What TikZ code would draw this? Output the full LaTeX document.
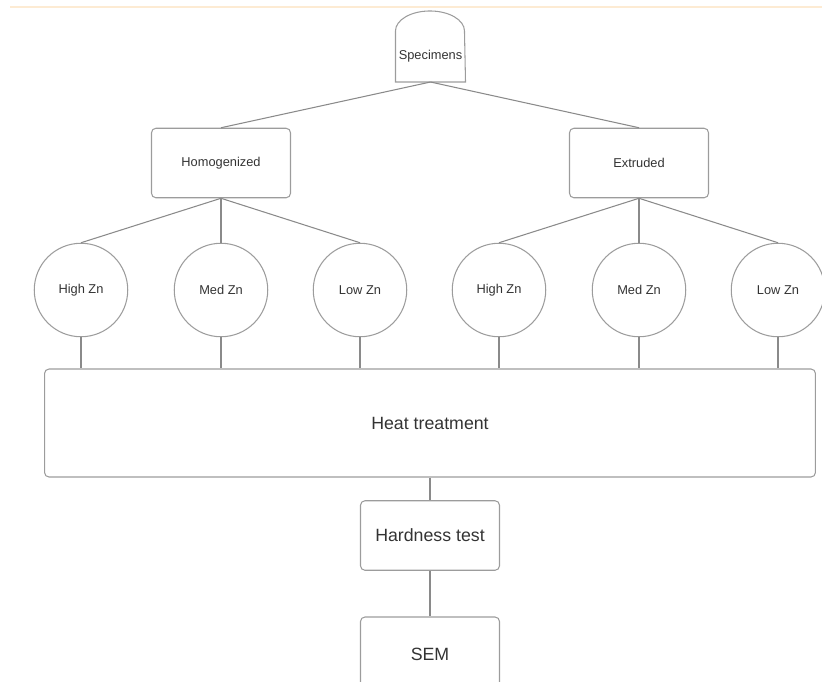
\documentclass[tikz,border=0pt]{standalone}
\usepackage{fontspec}
\setmainfont{Liberation Sans}
\definecolor{linegray}{HTML}{8A8A8A}
\definecolor{boxgray}{HTML}{9C9C9C}
\definecolor{textgray}{HTML}{333333}
\definecolor{topline}{HTML}{FDEBD3}
\tikzset{
  small/.style={font=\fontsize{7.3}{9}\selectfont, text=textgray},
  large/.style={font=\fontsize{10.1}{12}\selectfont, text=textgray},
  stepbox/.style={draw=boxgray, rounded corners=2.5pt, minimum width=2.78cm, minimum height=1.39cm, inner sep=0pt},
  zn/.style={draw=boxgray, circle, minimum size=1.87cm, inner sep=0pt, small}
}
\begin{document}
\begin{tikzpicture}[x=0.02cm, y=-0.02cm, line width=0.6pt]
  \useasboundingbox (0,0) rectangle (822,681);
  \clip (0,0) rectangle (822,681);
  \draw[topline, line width=1pt] (10,7) -- (822,7);
  % tree
  \node[small, minimum width=1.38cm, minimum height=1cm, inner sep=0pt, anchor=south] (spec) at (430.5,82) {Specimens};
  \draw[boxgray] (spec.south west) -- (spec.north west)
    arc[start angle=180, end angle=0, x radius=0.69cm, y radius=0.4cm]
    -- (spec.south east) -- cycle;
  \node[stepbox, small] (homog) at (221,163) {Homogenized};
  \node[stepbox, small] (extr) at (639,163) {Extruded};
  \node[zn] (hz1) at (81,290) {High Zn};
  \node[zn] (mz1) at (221,290) {Med Zn};
  \node[zn] (lz1) at (360,290) {Low Zn};
  \node[zn] (hz2) at (499,290) {High Zn};
  \node[zn] (mz2) at (639,290) {Med Zn};
  \node[zn] (lz2) at (778,290) {Low Zn};
  \node[stepbox, large, minimum width=15.42cm, minimum height=2.16cm] (heat) at (430,423) {Heat treatment};
  \node[stepbox, large] (hard) at (430,535.5) {Hardness test};
  \node[stepbox, large, minimum height=1.5cm] (sem) at (430,654.5) {SEM};
  \begin{scope}[linegray]
    \draw (spec.south) to (homog.north);
    \draw (spec.south) to (extr.north);
    \draw (homog.south) to (hz1.north);
    \draw (homog.south) to (mz1.north);
    \draw (homog.south) to (lz1.north);
    \draw (extr.south) to (hz2.north);
    \draw (extr.south) to (mz2.north);
    \draw (extr.south) to (lz2.north);
    \draw (hz1.south) to (hz1.south |- heat.north);
    \draw (mz1.south) to (mz1.south |- heat.north);
    \draw (lz1.south) to (lz1.south |- heat.north);
    \draw (hz2.south) to (hz2.south |- heat.north);
    \draw (mz2.south) to (mz2.south |- heat.north);
    \draw (lz2.south) to (lz2.south |- heat.north);
    \draw (heat.south) to (hard.north);
    \draw (hard.south) to (sem.north);
  \end{scope}
\end{tikzpicture}
\end{document}
